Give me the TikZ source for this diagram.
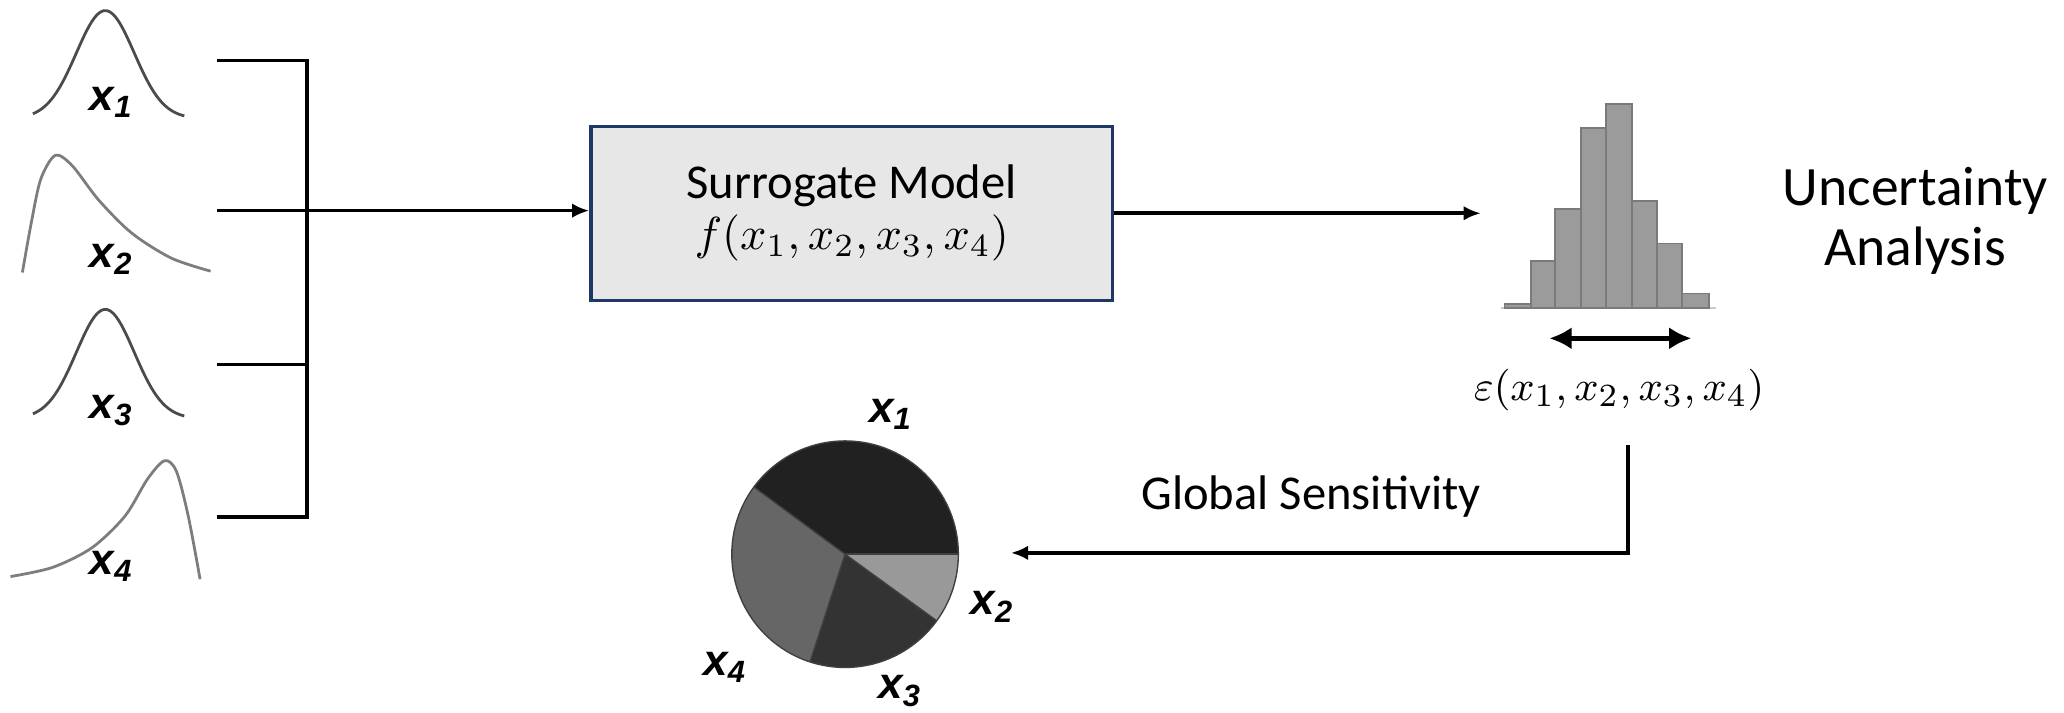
\documentclass[tikz,border=0pt]{standalone}
\usepackage{fontspec}
\setmainfont{Carlito}
\newfontfamily\labelfont{Liberation Sans}
\usepackage{tikz}
\usetikzlibrary{arrows.meta,positioning,calc}
\definecolor{boxfill}{RGB}{231,231,231}
\definecolor{boxline}{RGB}{32,56,100}
\definecolor{barfill}{RGB}{155,155,155}
\definecolor{barline}{RGB}{122,122,122}
\definecolor{curvedark}{RGB}{75,75,75}
\definecolor{curvelight}{RGB}{125,125,125}
\newcommand{\invar}[1]{{\labelfont\bfseries\itshape x\textsubscript{#1}}}

\begin{document}
\begin{tikzpicture}[x=0.01cm,y=-0.01cm,>={Latex[length=1.3mm,width=1.1mm]},line width=0.8pt,
  every node/.style={font=\fontsize{10.5}{12}\selectfont,align=center,inner sep=0pt},
  varlabel/.style={font=\fontsize{9.5}{10}\selectfont},
  formula/.style={font=\fontsize{9.4}{11}\selectfont},
  density/.style={line width=0.6pt,smooth},
  bar/.style={fill=barfill,draw=barline,line width=0.4pt}]
\useasboundingbox (0,0) rectangle (1568,541);
% input distributions
\draw[density,curvedark] plot[domain=25:140,samples=50] (\x,{90-82*exp(-0.5*((\x-80)/22)^2)});
\draw[density,curvelight] plot coordinates {(17,207) (24,168) (31,136) (42,118) (55,126) (75,152) (100,177) (130,196) (160,206)};
\draw[density,curvedark] plot[domain=25:140,samples=50] (\x,{318-83*exp(-0.5*((\x-80)/22)^2)});
\draw[density,curvelight] plot coordinates {(8,438) (40,431) (70,416) (95,392) (112,364) (125,350) (134,358) (143,392) (152,440)};
\node[varlabel] (in1) at (85,78) {\invar{1}};
\node[varlabel] (in2) at (85,197) {\invar{2}};
\node[varlabel] (in3) at (85,312) {\invar{3}};
\node[varlabel] (in4) at (85,430) {\invar{4}};
% collector
\coordinate (b1) at (165,46);
\coordinate (b2) at (165,160);
\coordinate (b3) at (165,277);
\coordinate (b4) at (165,393);
\coordinate (hub) at (233,160);
\draw (b1) -- (b1 -| hub) -- (b4 -| hub) -- (b4);
\draw (b2) -- (hub);
\draw (b3) -- (b3 -| hub);
% model
\node[draw=boxline,fill=boxfill,line width=0.7pt,minimum width=3.96cm,minimum height=1.32cm] (surrogate) at (647,162)
  {Surrogate Model\\[-1pt]{\fontsize{9.6}{11}\selectfont$f(x_1,x_2,x_3,x_4)$}};
\draw[->] (hub) -- (hub -| surrogate.west);
% histogram
\coordinate (hist) at (1125,162);
\draw[->] (surrogate.east) -- (hist);
\draw[line width=0.4pt,black!20] (1140,234) -- (1304,234);
\foreach \l/\r/\t in {1143/1163/231,1163/1181/198,1181/1201/159,1201/1220/97,1220/1240/79,1240/1259/153,1259/1278/185,1278/1298/223}
  \draw[bar] (\l,234) rectangle (\r,\t);
\coordinate (sl) at (1177,257);
\coordinate (sr) at (1285,257);
\draw[{Latex[length=1.7mm,width=1.7mm]}-{Latex[length=1.7mm,width=1.7mm]},line width=1pt] (sl) -- (sr);
\node[formula] (eps) at (1230,296) {$\varepsilon(x_1,x_2,x_3,x_4)$};
\node[font=\fontsize{12}{13}\selectfont] (ua) at (1455,168) {Uncertainty\\Analysis};
% sensitivity
\coordinate (fb) at (1237,338);
\coordinate (pietip) at (768,420);
\draw[->] (fb) |- (pietip);
\node (gs) at (996,377) {Global Sensitivity};
\coordinate (pie) at (642,421);
\fill[black!87] (pie) -- ++(0:0.86cm) arc[start angle=0,end angle=143.6,radius=0.86cm] -- cycle;
\fill[black!60] (pie) -- ++(143.6:0.86cm) arc[start angle=143.6,end angle=252,radius=0.86cm] -- cycle;
\fill[black!80] (pie) -- ++(252:0.86cm) arc[start angle=252,end angle=324,radius=0.86cm] -- cycle;
\fill[black!40] (pie) -- ++(324:0.86cm) arc[start angle=324,end angle=360,radius=0.86cm] -- cycle;
\draw[line width=0.3pt,black!75] (pie) circle[radius=0.86cm];
\foreach \a in {0,143.6,252,324}
  \draw[line width=0.3pt,black!75] (pie) -- ++(\a:0.86cm);
\node[varlabel] (p1) at (677,315) {\invar{1}};
\node[varlabel] (p2) at (754,461) {\invar{2}};
\node[varlabel] (p3) at (684,525) {\invar{3}};
\node[varlabel] (p4) at (551,507) {\invar{4}};
\end{tikzpicture}
\end{document}
